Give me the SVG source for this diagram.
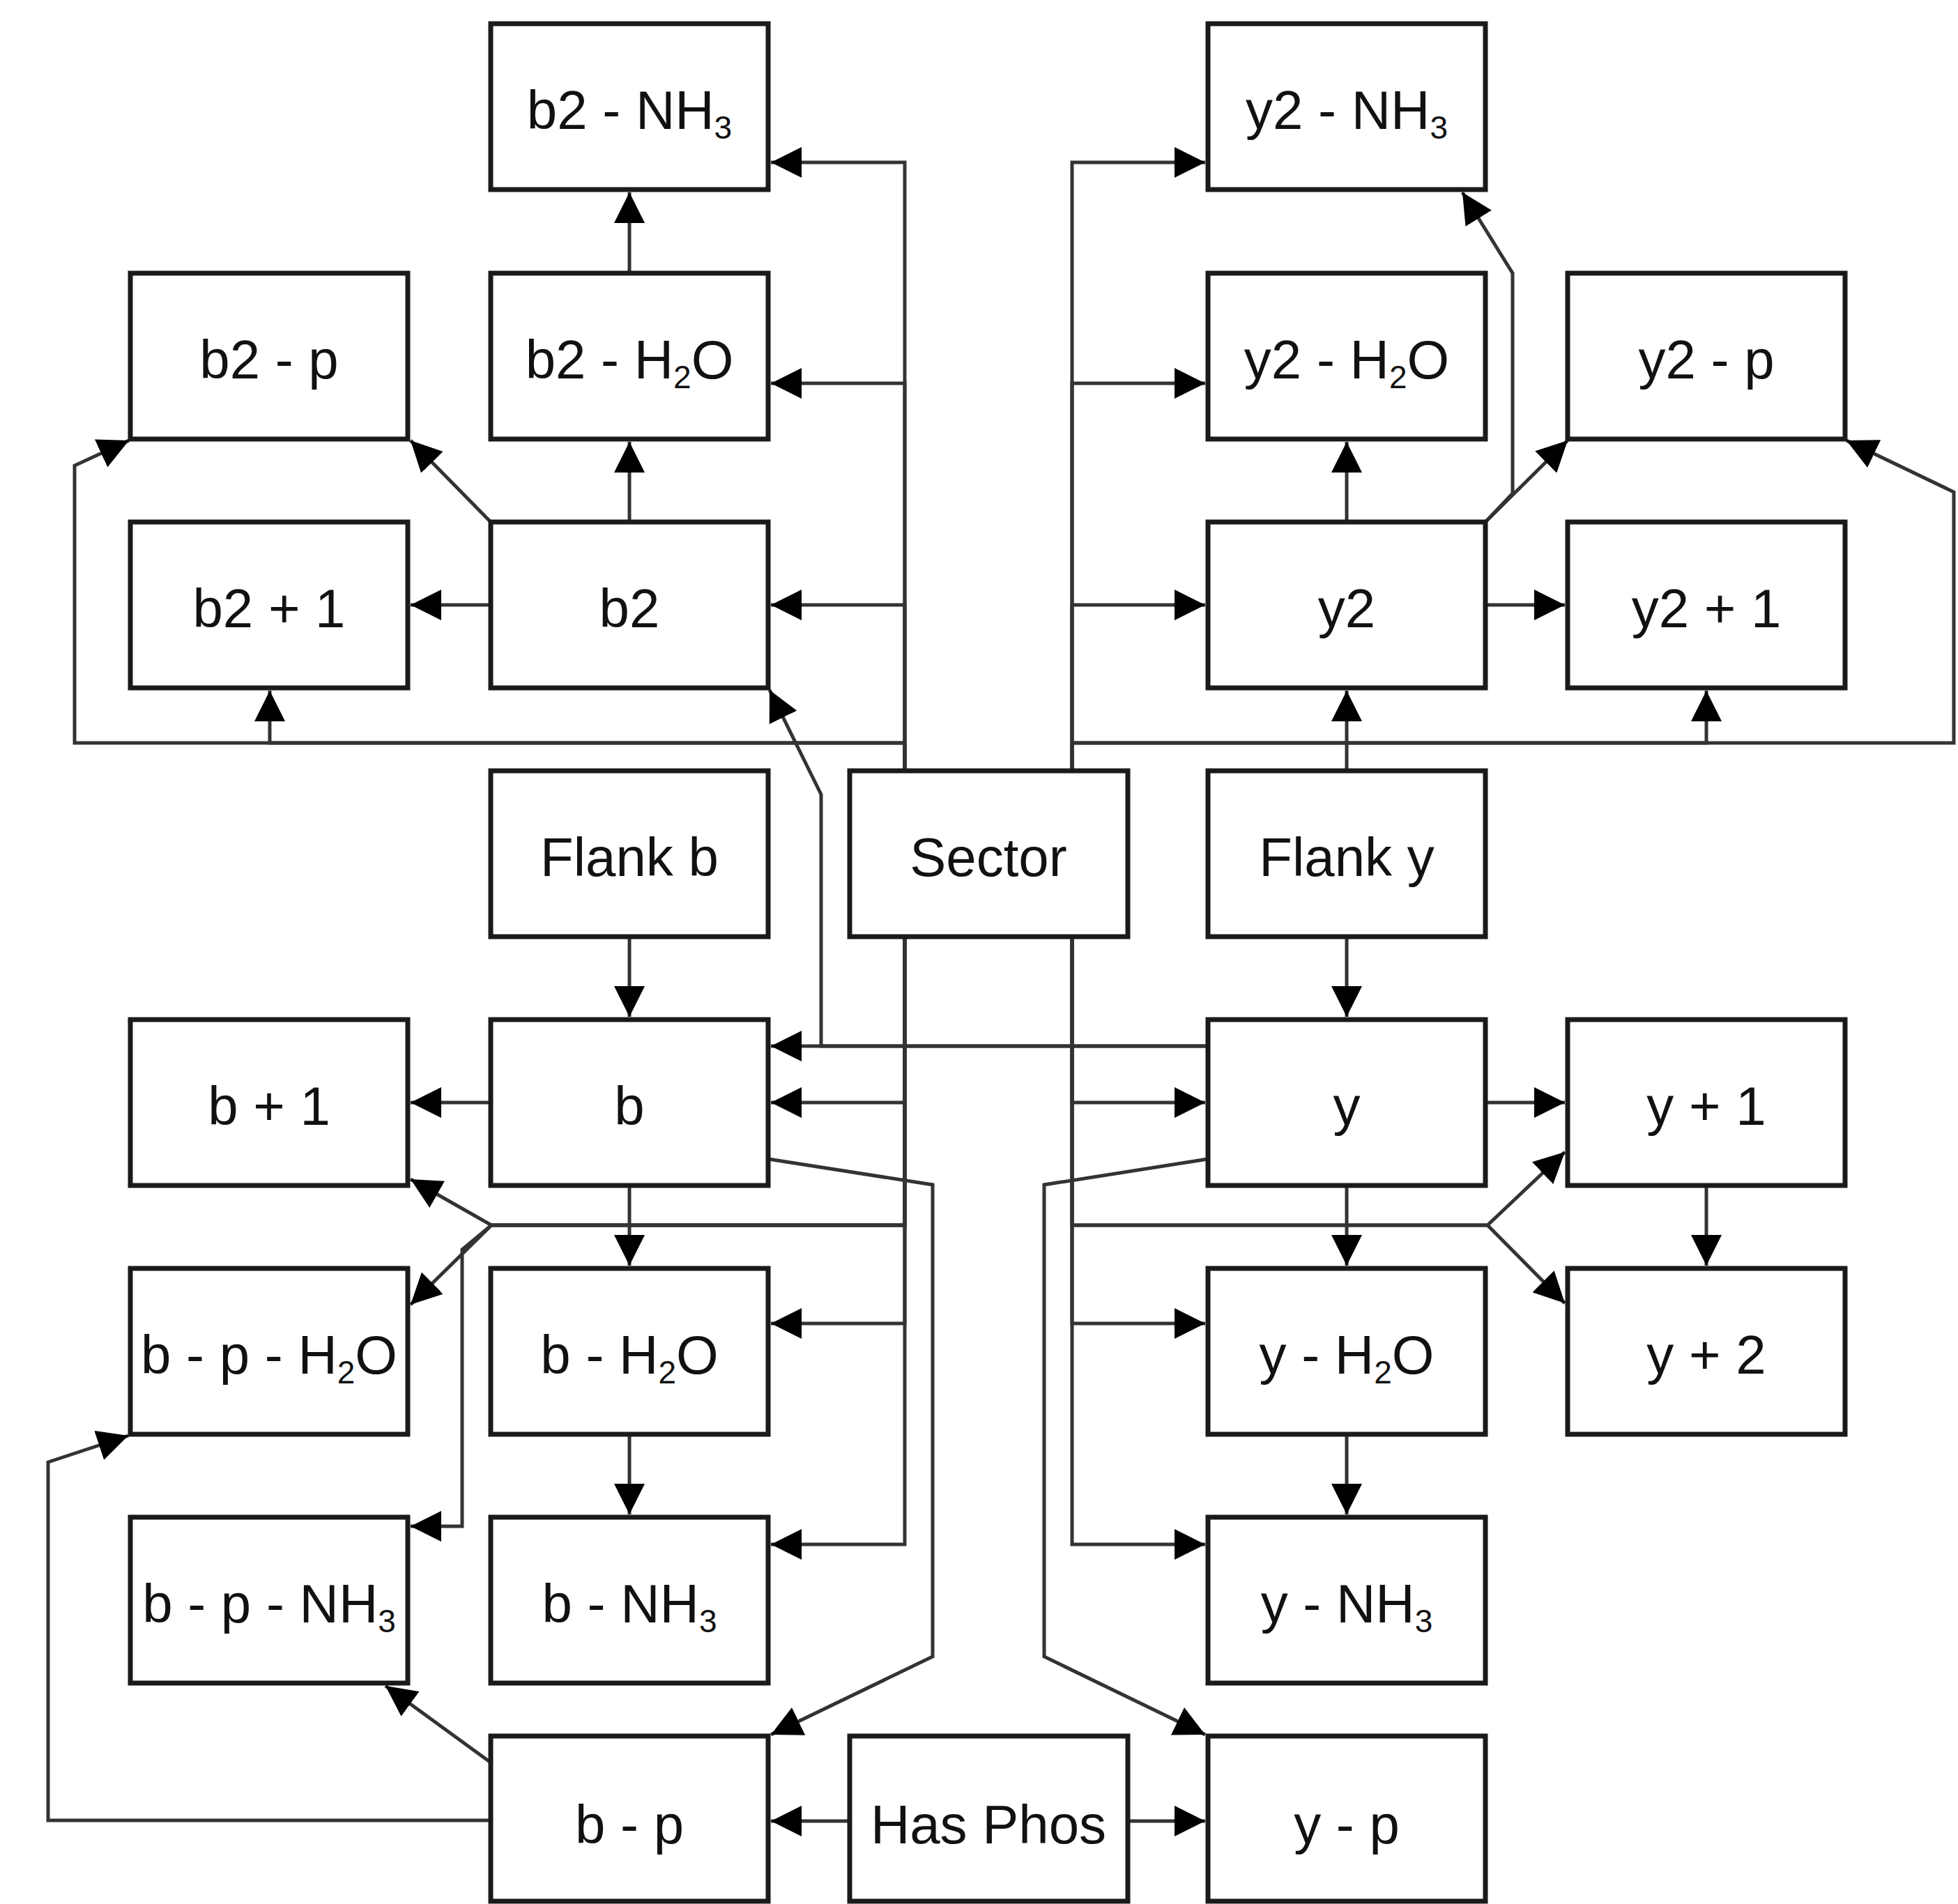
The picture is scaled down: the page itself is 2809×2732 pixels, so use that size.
<svg xmlns="http://www.w3.org/2000/svg" width="2809" height="2732" viewBox="0 0 2809 2732">
<style>
.box{fill:#fff;stroke:#1a1a1a;stroke-width:7}
.t{font-family:"Liberation Sans",Arial,sans-serif;font-size:78px;text-anchor:middle;fill:#111}
.s{font-size:46px}
.c{fill:none;stroke:#333;stroke-width:5;marker-end:url(#arr)}
</style>
<defs>
<marker id="arr" markerUnits="userSpaceOnUse" markerWidth="44" markerHeight="44" refX="44" refY="22" orient="auto" viewBox="0 0 44 44"><path d="M0,0 L44,22 L0,44 z" fill="#000"/></marker>
</defs>
<rect width="2809" height="2732" fill="#fff"/>
<g id="connectors">
<path class="c" d="M1298,1106 V233 H1106"/>
<path class="c" d="M1298,1106 V550 H1106"/>
<path class="c" d="M1298,1106 V868 H1106"/>
<path class="c" d="M1298,1106 V1066 H387 V991"/>
<path class="c" d="M1298,1106 V1066 H107 V668 L185,632"/>
<path class="c" d="M1538,1106 V233 H1729"/>
<path class="c" d="M1538,1106 V550 H1729"/>
<path class="c" d="M1538,1106 V868 H1729"/>
<path class="c" d="M1538,1106 V1066 H2448 V991"/>
<path class="c" d="M1538,1106 V1066 H2803 V706 L2649,632"/>
<path class="c" d="M1932,1106 V991"/>
<path class="c" d="M1932,749 V634"/>
<path class="c" d="M2131,749 L2170,708 V392 L2098,276"/>
<path class="c" d="M2131,749 L2249,632"/>
<path class="c" d="M2131,868 H2245"/>
<path class="c" d="M704,868 H589"/>
<path class="c" d="M903,749 V634"/>
<path class="c" d="M903,392 V276"/>
<path class="c" d="M704,749 L589,632"/>
<path class="c" d="M1733,1501 H1178 V1140 L1104,990"/>
<path class="c" d="M1733,1501 H1106"/>
<path class="c" d="M903,1344 V1459"/>
<path class="c" d="M1932,1344 V1459"/>
<path class="c" d="M1298,1344 V1582 H1106"/>
<path class="c" d="M1298,1344 V1899 H1106"/>
<path class="c" d="M1298,1344 V2216 H1106"/>
<path class="c" d="M1298,1344 V1758 H705 L589,1692"/>
<path class="c" d="M1298,1344 V1758 H705 L589,1872"/>
<path class="c" d="M1298,1344 V1758 H705 L663,1793 V2190 H589"/>
<path class="c" d="M1538,1344 V1582 H1729"/>
<path class="c" d="M1538,1344 V1899 H1729"/>
<path class="c" d="M1538,1344 V2216 H1729"/>
<path class="c" d="M1538,1344 V1758 H2134 L2245,1653"/>
<path class="c" d="M1538,1344 V1758 H2134 L2245,1870"/>
<path class="c" d="M704,1582 H589"/>
<path class="c" d="M903,1701 V1816"/>
<path class="c" d="M903,2058 V2173"/>
<path class="c" d="M1102,1663 L1338,1700 V2377 L1106,2489"/>
<path class="c" d="M1733,1663 L1498,1700 V2377 L1729,2489"/>
<path class="c" d="M2131,1582 H2245"/>
<path class="c" d="M2448,1701 V1816"/>
<path class="c" d="M1932,1701 V1816"/>
<path class="c" d="M1932,2058 V2173"/>
<path class="c" d="M1219,2613 H1106"/>
<path class="c" d="M1618,2613 H1729"/>
<path class="c" d="M704,2529 L553,2419"/>
<path class="c" d="M704,2612 H69 V2098 L184,2060"/>
</g>
<g id="b2-NH3"><rect class="box" x="704" y="34" width="398" height="238"/><text class="t" x="903" y="185">b2 - NH<tspan class="s" dy="14">3</tspan></text></g>
<g id="y2-NH3"><rect class="box" x="1733" y="34" width="398" height="238"/><text class="t" x="1932" y="185">y2 - NH<tspan class="s" dy="14">3</tspan></text></g>
<g id="b2-p"><rect class="box" x="187" y="392" width="398" height="238"/><text class="t" x="386" y="543">b2 - p</text></g>
<g id="b2-H2O"><rect class="box" x="704" y="392" width="398" height="238"/><text class="t" x="903" y="543">b2 - H<tspan class="s" dy="14">2</tspan><tspan dy="-14">O</tspan></text></g>
<g id="y2-H2O"><rect class="box" x="1733" y="392" width="398" height="238"/><text class="t" x="1932" y="543">y2 - H<tspan class="s" dy="14">2</tspan><tspan dy="-14">O</tspan></text></g>
<g id="y2-p"><rect class="box" x="2249" y="392" width="398" height="238"/><text class="t" x="2448" y="543">y2 - p</text></g>
<g id="b2-plus-1"><rect class="box" x="187" y="749" width="398" height="238"/><text class="t" x="386" y="900">b2 + 1</text></g>
<g id="b2"><rect class="box" x="704" y="749" width="398" height="238"/><text class="t" x="903" y="900">b2</text></g>
<g id="y2"><rect class="box" x="1733" y="749" width="398" height="238"/><text class="t" x="1932" y="900">y2</text></g>
<g id="y2-plus-1"><rect class="box" x="2249" y="749" width="398" height="238"/><text class="t" x="2448" y="900">y2 + 1</text></g>
<g id="flank-b"><rect class="box" x="704" y="1106" width="398" height="238"/><text class="t" x="903" y="1257">Flank b</text></g>
<g id="sector"><rect class="box" x="1219" y="1106" width="399" height="238"/><text class="t" x="1418" y="1257">Sector</text></g>
<g id="flank-y"><rect class="box" x="1733" y="1106" width="398" height="238"/><text class="t" x="1932" y="1257">Flank y</text></g>
<g id="b-plus-1"><rect class="box" x="187" y="1463" width="398" height="238"/><text class="t" x="386" y="1614">b + 1</text></g>
<g id="b"><rect class="box" x="704" y="1463" width="398" height="238"/><text class="t" x="903" y="1614">b</text></g>
<g id="y"><rect class="box" x="1733" y="1463" width="398" height="238"/><text class="t" x="1932" y="1614">y</text></g>
<g id="y-plus-1"><rect class="box" x="2249" y="1463" width="398" height="238"/><text class="t" x="2448" y="1614">y + 1</text></g>
<g id="b-p-H2O"><rect class="box" x="187" y="1820" width="398" height="238"/><text class="t" x="386" y="1971">b - p - H<tspan class="s" dy="14">2</tspan><tspan dy="-14">O</tspan></text></g>
<g id="b-H2O"><rect class="box" x="704" y="1820" width="398" height="238"/><text class="t" x="903" y="1971">b - H<tspan class="s" dy="14">2</tspan><tspan dy="-14">O</tspan></text></g>
<g id="y-H2O"><rect class="box" x="1733" y="1820" width="398" height="238"/><text class="t" x="1932" y="1971">y - H<tspan class="s" dy="14">2</tspan><tspan dy="-14">O</tspan></text></g>
<g id="y-plus-2"><rect class="box" x="2249" y="1820" width="398" height="238"/><text class="t" x="2448" y="1971">y + 2</text></g>
<g id="b-p-NH3"><rect class="box" x="187" y="2177" width="398" height="238"/><text class="t" x="386" y="2328">b - p - NH<tspan class="s" dy="14">3</tspan></text></g>
<g id="b-NH3"><rect class="box" x="704" y="2177" width="398" height="238"/><text class="t" x="903" y="2328">b - NH<tspan class="s" dy="14">3</tspan></text></g>
<g id="y-NH3"><rect class="box" x="1733" y="2177" width="398" height="238"/><text class="t" x="1932" y="2328">y - NH<tspan class="s" dy="14">3</tspan></text></g>
<g id="b-p"><rect class="box" x="704" y="2491" width="398" height="237"/><text class="t" x="903" y="2645">b - p</text></g>
<g id="has-phos"><rect class="box" x="1219" y="2491" width="399" height="237"/><text class="t" x="1418" y="2645">Has Phos</text></g>
<g id="y-p"><rect class="box" x="1733" y="2491" width="398" height="237"/><text class="t" x="1932" y="2645">y - p</text></g>
</svg>
